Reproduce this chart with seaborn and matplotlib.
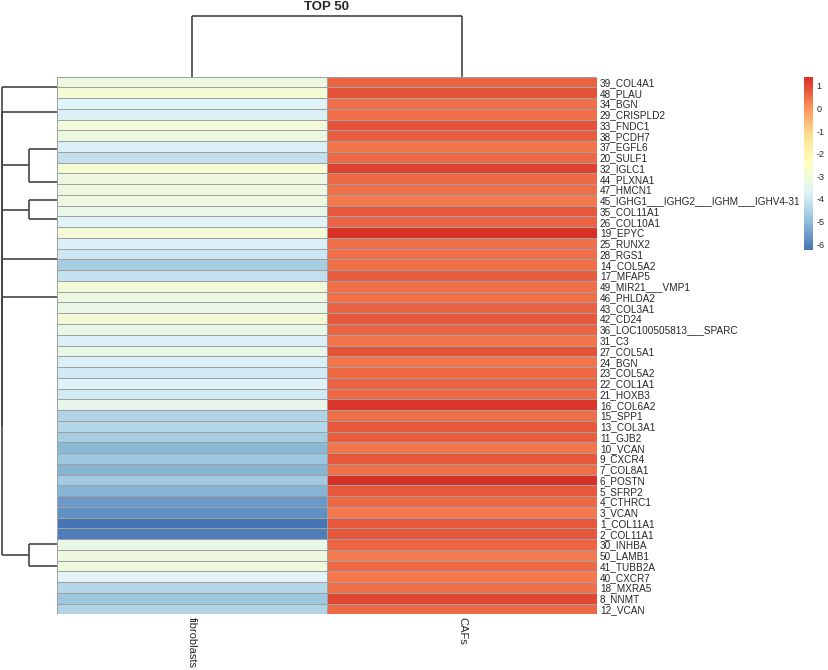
import matplotlib
matplotlib.use("Agg")
import matplotlib.pyplot as plt
import numpy as np
import pandas as pd
import seaborn as sns
from matplotlib.colors import LinearSegmentedColormap

# ---- data ----
genes = ["39_COL4A1", "48_PLAU", "34_BGN", "29_CRISPLD2", "33_FNDC1", "38_PCDH7",
         "37_EGFL6", "20_SULF1", "32_IGLC1", "44_PLXNA1", "47_HMCN1",
         "45_IGHG1___IGHG2___IGHM___IGHV4-31", "35_COL11A1", "26_COL10A1", "19_EPYC",
         "25_RUNX2", "28_RGS1", "14_COL5A2", "17_MFAP5", "49_MIR21___VMP1", "46_PHLDA2",
         "43_COL3A1", "42_CD24", "36_LOC100505813___SPARC", "31_C3", "27_COL5A1", "24_BGN",
         "23_COL5A2", "22_COL1A1", "21_HOXB3", "16_COL6A2", "15_SPP1", "13_COL3A1",
         "11_GJB2", "10_VCAN", "9_CXCR4", "7_COL8A1", "6_POSTN", "5_SFRP2", "4_CTHRC1",
         "3_VCAN", "1_COL11A1", "2_COL11A1", "30_INHBA", "50_LAMB1", "41_TUBB2A",
         "40_CXCR7", "18_MXRA5", "8_NNMT", "12_VCAN"]
samples = ["fibroblasts", "CAFs"]

fibroblasts = [-3.2, -2.85, -3.7, -3.8, -3.05, -3.2, -3.8, -4.2, -2.85, -3.15,
               -3.2, -3.2, -3.3, -3.7, -2.95, -3.8, -4.0, -4.6, -4.2, -3.05,
               -3.2, -3.3, -2.95, -3.3, -3.8, -3.3, -3.8, -3.9, -3.7, -3.9,
               -3.4, -4.5, -4.4, -4.6, -5.1, -4.8, -5.2, -4.7, -5.2, -5.6,
               -5.8, -6.28, -6.1, -3.3, -3.2, -3.1, -3.6, -4.4, -4.8, -4.5]
cafs = [0.7, 0.9, 0.5, 0.55, 0.9, 0.75, 0.45, 0.6, 1.15, 0.6,
        0.5, 0.4, 0.8, 0.7, 1.4, 0.55, 0.55, 0.5, 0.75, 0.55,
        0.5, 0.65, 0.85, 0.7, 0.45, 0.9, 0.45, 0.6, 0.7, 0.6,
        1.25, 0.55, 0.8, 0.75, 0.45, 0.8, 0.5, 1.35, 0.8, 0.6,
        0.4, 0.8, 0.8, 0.7, 0.4, 0.6, 0.4, 0.5, 1.05, 0.6]

# row tree: leaf groups (first row, last row, nesting), merged near height 0
leaf_groups = [(0, 1, "bal"), (2, 4, "right"), (5, 7, "left"), (8, 10, "left"),
               (11, 11, "bal"), (12, 14, "right"), (15, 18, "bal"), (19, 42, "right"),
               (43, 43, "bal"), (44, 49, "right")]
mid_pairs = [(2, 3), (4, 5), (8, 9)]          # groups joined at mid height
top_order = [0, 1, (2, 3), (4, 5), 6, 7, (8, 9)]  # joined at full height
mid_height = 0.5
top_height = 1.0

col_tree = [1.0, 0, 1]

vmin, vmax = -6.28, 1.40
bar_ticks = [1, 0, -1, -2, -3, -4, -5, -6]


def chain(leaves, how):
    if len(leaves) == 1:
        return leaves[0]
    if how == "right":
        return [0.0, leaves[0], chain(leaves[1:], how)]
    if how == "left":
        return [0.0, chain(leaves[:-1], how), leaves[-1]]
    m = len(leaves) // 2
    return [0.0, chain(leaves[:m], how), chain(leaves[m:], how)]


groups = [chain(list(range(a, b + 1)), how) for a, b, how in leaf_groups]
subs = {p: [mid_height, groups[p[0]], groups[p[1]]] for p in mid_pairs}
top_nodes = [subs[k] if isinstance(k, tuple) else groups[k] for k in top_order]
row_tree = top_nodes[-1]
for node in reversed(top_nodes[:-1]):
    row_tree = [top_height, node, row_tree]


def draw_tree(ax, node, horizontal, **kw):
    if not isinstance(node, list):
        return node + 0.5, 0.0
    h, left, right = node
    pl, hl = draw_tree(ax, left, horizontal, **kw)
    pr, hr = draw_tree(ax, right, horizontal, **kw)
    if h > 0:
        segs = [([h, h], [pl, pr])]
        if h > hl:
            segs.append(([hl, h], [pl, pl]))
        if h > hr:
            segs.append(([hr, h], [pr, pr]))
        for hs, ps in segs:
            if horizontal:
                ax.plot(hs, ps, **kw)
            else:
                ax.plot(ps, hs, **kw)
    return (pl + pr) / 2, h


df = pd.DataFrame({"fibroblasts": fibroblasts, "CAFs": cafs}, index=genes)[samples]

sns.set_style("white")
plt.rcParams["font.family"] = ["Liberation Sans", "DejaVu Sans"]

cmap = LinearSegmentedColormap.from_list(
    "rdylbu", ["#4575B4", "#91BFDB", "#E0F3F8", "#FFFFBF", "#FEE090", "#FC8D59", "#D73027"], N=100)

W, H = 829, 670
fig = plt.figure(figsize=(W / 100, H / 100), dpi=100)


def px_axes(x0, y0, x1, y1):
    return fig.add_axes([x0 / W, 1 - y1 / H, (x1 - x0) / W, (y1 - y0) / H])


ax = px_axes(57, 76.7, 597, 614.3)
ax_row = px_axes(1.7, 76.7, 57, 614.3)
ax_col = px_axes(57, 15.7, 597, 76.7)
cax = px_axes(804, 76.7, 813.3, 250.5)

sns.heatmap(df, ax=ax, cmap=cmap, vmin=vmin, vmax=vmax, linewidths=0.6,
            linecolor="#a0a0a0", cbar_ax=cax, cbar_kws={"ticks": bar_ticks})

ax.yaxis.tick_right()
ax.set_yticks(np.arange(len(genes)) + 0.5)
ax.set_yticklabels(genes, rotation=0, fontsize=7.2)
ax.set_xticklabels(samples, rotation=270, fontsize=8)
ax.tick_params(axis="y", length=0, pad=2)
ax.tick_params(axis="x", length=0, pad=2)
ax.set_xlabel("")
ax.set_ylabel("")

cbar = ax.collections[0].colorbar
cbar.outline.set_visible(False)
cax.set_yticks(bar_ticks)
cax.set_yticklabels([str(t) for t in bar_ticks])
cax.tick_params(length=0, labelsize=6.5, pad=2.5)

line_kw = dict(color="#454545", lw=1.2, clip_on=False, solid_capstyle="butt")
draw_tree(ax_row, row_tree, True, **line_kw)
ax_row.set_xlim(top_height, 0)
ax_row.set_ylim(len(genes), 0)
ax_row.axis("off")

draw_tree(ax_col, col_tree, False, **line_kw)
ax_col.set_xlim(0, len(samples))
ax_col.set_ylim(0, 1.0)
ax_col.axis("off")

fig.text(326.7 / W, 1 - 7 / H, "TOP 50", ha="center", va="center",
         fontsize=9.5, fontweight="bold")

fig.savefig("out.png", dpi=100)
